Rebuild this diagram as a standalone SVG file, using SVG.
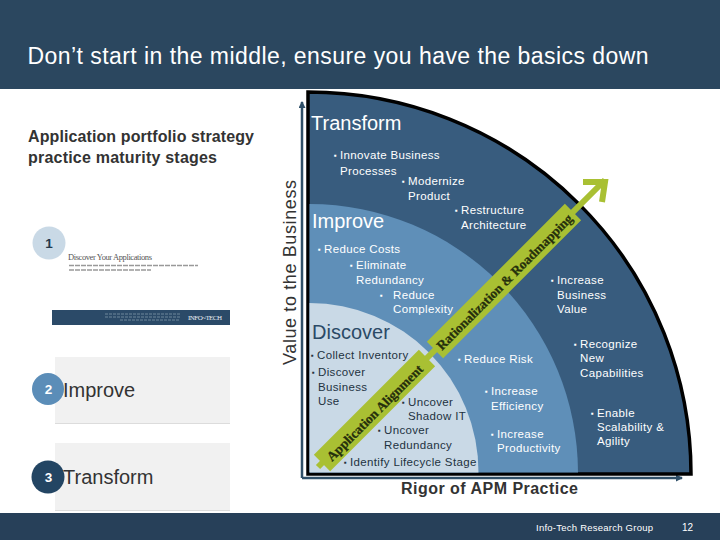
<svg xmlns="http://www.w3.org/2000/svg" width="720" height="540" viewBox="0 0 720 540">
<style>
text{font-family:"Liberation Sans",Arial,sans-serif}
.b{font-size:11.5px;fill:#fff;letter-spacing:.35px}
.d{font-size:11.5px;fill:#22323f;letter-spacing:.35px}
.p{font-size:8px;letter-spacing:0}
.h{font-size:20px;fill:#fff}
.hd{font-size:20px;fill:#2b4a66}
.k{font-size:20px;fill:#333}
.t{font-size:16px;font-weight:bold;fill:#333}
.n{font-size:13.5px;font-weight:bold;text-anchor:middle}
.bar{font-family:"Liberation Serif",serif;font-weight:bold;font-size:13.5px;fill:#26300c;stroke:#26300c;stroke-width:.25}
.axis{stroke:#2f4f68;stroke-width:2.5;fill:none}
.gr{fill:#f1f1f1;stroke:none}
.grline{fill:#dcdcdc}
</style>
<defs>
<marker id="ah" markerWidth="8" markerHeight="8" refX="6" refY="3.5" orient="auto" markerUnits="userSpaceOnUse"><path d="M0 0L7 3.5L0 7z" fill="#2f4f68"/></marker>
</defs>
<rect width="720" height="540" fill="#fff"/>
<g id="header">
<rect width="720" height="89" fill="#2b475f"/>
<text x="27.500" y="64" font-size="23" fill="#fff" textLength="621">Don’t start in the middle, ensure you have the basics down</text>
</g>
<g id="footer">
<rect y="513" width="720" height="27" fill="#274059"/>
<text x="536" y="531" font-size="9.500" fill="#fff" textLength="117">Info-Tech Research Group</text>
<text x="682" y="531" font-size="10" fill="#fff">12</text>
</g>
<g id="stages-title"><text class="t" x="28" y="142" textLength="226">Application portfolio strategy</text><text class="t" x="28" y="163" textLength="189">practice maturity stages</text></g>
<g id="stage-1">
<text x="68" y="260" fill="#555" style="font-family:'Liberation Serif',serif;font-size:8.500px" textLength="84">Discover Your Applications</text>
<path d="M69 265.500H198M69 270H151" stroke="#999" stroke-width="1.500" stroke-dasharray="5 1"/>
<rect x="52" y="310" width="178" height="15" fill="#2b4a68"/>
<path d="M105 314H180M105 317H180M120 320H180" stroke="#6f879b" stroke-width="1" stroke-dasharray="3 1"/>
<text x="188" y="320" fill="#e8eef3" style="font-family:'Liberation Serif',serif;font-size:7px" textLength="34">INFO~TECH</text>
<circle cx="49" cy="243" r="16.500" fill="#c9d9e6"/><text class="n" x="49" y="248" fill="#23384c">1</text>
</g>
<g id="stage-2">
<rect class="gr" x="55" y="357" width="175" height="66"/><rect class="grline" x="55" y="423" width="175" height="1"/>
<circle cx="48" cy="389" r="16" fill="#5b8db8"/><text class="n" x="48.500" y="394" fill="#fff">2</text>
<text class="k" x="63" y="397">Improve</text>
</g>
<g id="stage-3">
<rect class="gr" x="55" y="443" width="175" height="67"/><rect class="grline" x="55" y="510" width="175" height="1"/>
<circle cx="48" cy="477" r="16.500" fill="#234563"/><text class="n" x="48.500" y="482" fill="#fff">3</text>
<text class="k" x="63" y="484">Transform</text>
</g>
<g id="connectors">
<path class="axis" d="M302 478V102" marker-end="url(#ah)"/>
<path class="axis" d="M302 478H682" marker-end="url(#ah)"/>
</g>
<g id="axis-labels">
<text transform="translate(296 365) rotate(-90)" font-size="18" fill="#333" textLength="185">Value to the Business</text>
<text class="t" x="401" y="494" textLength="177">Rigor of APM Practice</text>
</g>
<g id="transform">
<path d="M308 92A383 382 0 0 1 691 474H308Z" fill="#385c7e" stroke="#000" stroke-width="3.500"/>
<text class="h" x="311" y="130">Transform</text>
<text class="b"><tspan class="p" x="334" y="158">▪</tspan><tspan x="340" y="159">Innovate Business</tspan></text><text class="b" x="340" y="174.500">Processes</text>
<text class="b"><tspan class="p" x="402" y="184">▪</tspan><tspan x="408" y="185">Modernize</tspan></text><text class="b" x="408" y="200">Product</text>
<text class="b"><tspan class="p" x="455" y="213">▪</tspan><tspan x="461" y="214">Restructure</tspan></text><text class="b" x="461" y="229">Architecture</text>
<text class="b"><tspan class="p" x="551" y="283">▪</tspan><tspan x="557" y="284">Increase</tspan></text><text class="b" x="557" y="298.500">Business</text><text class="b" x="557" y="312.500">Value</text>
<text class="b"><tspan class="p" x="574" y="347">▪</tspan><tspan x="580" y="348">Recognize</tspan></text><text class="b" x="580" y="362">New</text><text class="b" x="580" y="377">Capabilities</text>
<text class="b"><tspan class="p" x="591" y="416">▪</tspan><tspan x="597" y="417">Enable</tspan></text><text class="b" x="597" y="431">Scalability &amp;</text><text class="b" x="597" y="445">Agility</text>
</g>
<g id="improve">
<path d="M309.500 204A269 269 0 0 1 578 472.500H309.500Z" fill="#5f8fb8"/>
<text class="h" x="312" y="228">Improve</text>
<text class="b"><tspan class="p" x="318" y="252">▪</tspan><tspan x="324" y="253">Reduce Costs</tspan></text>
<text class="b"><tspan class="p" x="350" y="268">▪</tspan><tspan x="356" y="269">Eliminate</tspan></text><text class="b" x="356" y="284">Redundancy</text>
<text class="b"><tspan class="p" x="380" y="298">▪</tspan><tspan x="393" y="298.500">Reduce</tspan></text><text class="b" x="393" y="312.500">Complexity</text>
<text class="b"><tspan class="p" x="458" y="362">▪</tspan><tspan x="464" y="363">Reduce Risk</tspan></text>
<text class="b"><tspan class="p" x="485" y="394">▪</tspan><tspan x="491" y="395">Increase</tspan></text><text class="b" x="491" y="409.500">Efficiency</text>
<text class="b"><tspan class="p" x="491" y="437">▪</tspan><tspan x="497" y="438">Increase</tspan></text><text class="b" x="497" y="451.500">Productivity</text>
</g>
<g id="discover">
<path d="M309.500 303A169 169 0 0 1 478.500 472.500H309.500Z" fill="#c9d9e6"/>
<text class="hd" x="312" y="339">Discover</text>
<text class="d"><tspan class="p" x="311" y="358">▪</tspan><tspan x="317" y="359">Collect Inventory</tspan></text>
<text class="d"><tspan class="p" x="312" y="375">▪</tspan><tspan x="318" y="376">Discover</tspan></text><text class="d" x="318" y="391">Business</text><text class="d" x="318" y="405">Use</text>
<text class="d"><tspan class="p" x="402" y="405">▪</tspan><tspan x="408" y="406">Uncover</tspan></text><text class="d" x="408" y="420">Shadow IT</text>
<text class="d"><tspan class="p" x="378" y="433">▪</tspan><tspan x="384" y="434">Uncover</tspan></text><text class="d" x="384" y="449">Redundancy</text>
<text class="d"><tspan class="p" x="344" y="465">▪</tspan><tspan x="350" y="466">Identify Lifecycle Stage</tspan></text>
</g>
<g id="green-arrow">
<path d="M318 467L605 180M583 182H605L602 202" fill="none" stroke="#a9c033" stroke-width="6"/>
<path d="M322 463L427 358M435 350L573 212" fill="none" stroke="#a9c033" stroke-width="23"/>
<text class="bar" transform="translate(332 462) rotate(-45)" textLength="130">Application Alignment</text>
<text class="bar" transform="translate(442 351) rotate(-45)" textLength="186">Rationalization &amp; Roadmapping</text>
</g>
</svg>
